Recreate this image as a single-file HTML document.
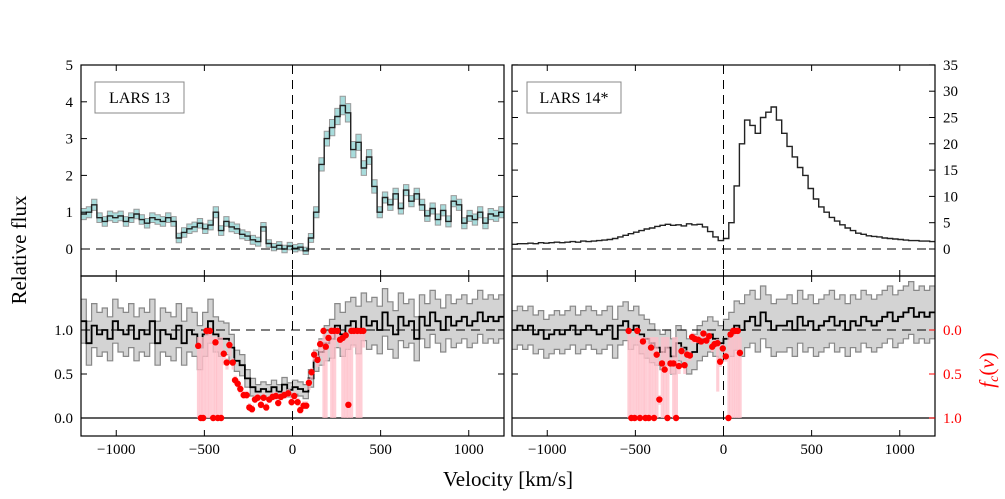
<!DOCTYPE html>
<html><head><meta charset="utf-8"><style>
body{margin:0;background:#fff;}
svg{display:block;font-family:"Liberation Serif",serif;}
</style></head><body>
<svg id="c" width="1005" height="499" viewBox="0 0 1005 499" xmlns="http://www.w3.org/2000/svg"></svg>
<script>
// ---- data ----
const binStart = -1200, binWidth = 30;
const flux13 = [0.95,1.0,1.2,0.85,0.75,0.9,0.85,0.9,0.75,0.85,0.95,0.8,0.7,0.85,0.8,0.75,0.85,0.75,0.3,0.45,0.55,0.6,0.7,0.55,0.65,1.0,0.5,0.75,0.6,0.55,0.4,0.35,0.25,0.2,0.6,0.15,0.05,0.1,0.0,0.08,0.02,0.05,-0.05,0.3,1.0,2.3,3.0,3.3,3.6,3.9,3.7,2.7,2.9,2.2,2.5,1.7,1.0,1.4,1.2,1.5,1.1,1.6,1.3,1.5,1.2,0.9,1.1,0.8,1.05,0.75,1.3,1.2,0.7,0.9,0.8,1.0,0.7,0.95,0.9,1.0];
const err13 = [0.15,0.15,0.15,0.13,0.13,0.13,0.13,0.13,0.13,0.13,0.13,0.13,0.13,0.13,0.13,0.13,0.13,0.13,0.13,0.13,0.13,0.13,0.13,0.13,0.13,0.15,0.13,0.13,0.13,0.13,0.12,0.12,0.12,0.12,0.12,0.1,0.1,0.1,0.1,0.1,0.1,0.1,0.1,0.12,0.15,0.18,0.2,0.22,0.22,0.25,0.25,0.22,0.22,0.2,0.2,0.18,0.15,0.15,0.15,0.15,0.15,0.15,0.15,0.15,0.15,0.15,0.15,0.15,0.15,0.15,0.15,0.15,0.15,0.15,0.15,0.15,0.15,0.15,0.15,0.15];
const flux14 = [0.9,1.0,1.0,1.1,1.0,1.2,1.1,1.2,1.3,1.2,1.3,1.4,1.3,1.5,1.4,1.5,1.6,1.7,1.8,2.0,2.3,2.6,2.9,3.2,3.5,3.8,4.0,4.3,4.5,4.7,4.5,4.6,4.4,4.8,4.6,4.7,4.2,3.3,2.3,1.6,2.0,5.0,12.0,20.0,24.5,23.5,22.0,25.0,26.0,27.0,24.5,22.0,19.5,17.5,15.5,14.0,11.5,9.5,8.0,7.0,6.0,5.3,4.6,4.0,3.5,3.0,2.8,2.5,2.4,2.3,2.1,2.0,1.9,1.8,1.7,1.6,1.6,1.5,1.5,1.4];
const norm13 = [1.1,0.85,1.05,0.95,1.0,0.9,1.1,1.0,0.95,1.05,0.9,1.0,0.95,1.1,0.85,1.0,0.95,0.9,1.05,0.85,1.0,0.95,0.8,0.95,1.1,0.95,0.9,0.9,0.8,0.65,0.6,0.45,0.35,0.3,0.33,0.3,0.35,0.3,0.38,0.32,0.35,0.33,0.3,0.45,0.65,0.75,0.85,0.9,1.05,0.95,1.05,1.1,1.0,1.15,1.05,1.1,1.0,1.2,1.05,0.95,1.15,1.05,1.1,0.9,1.15,1.05,1.2,1.1,1.0,1.15,1.05,1.1,1.15,1.05,1.1,1.2,1.1,1.15,1.1,1.15];
const nerr13 = [0.25,0.25,0.25,0.25,0.25,0.25,0.25,0.25,0.25,0.25,0.25,0.25,0.25,0.25,0.25,0.25,0.25,0.25,0.25,0.25,0.25,0.25,0.25,0.25,0.25,0.2,0.2,0.18,0.15,0.12,0.12,0.1,0.1,0.08,0.08,0.08,0.08,0.08,0.08,0.08,0.08,0.08,0.08,0.1,0.12,0.15,0.2,0.22,0.25,0.25,0.27,0.27,0.27,0.27,0.27,0.27,0.27,0.27,0.27,0.27,0.27,0.25,0.25,0.25,0.25,0.25,0.25,0.25,0.25,0.25,0.25,0.25,0.25,0.25,0.25,0.25,0.25,0.25,0.25,0.25];
const norm14 = [1.0,1.05,1.0,1.05,0.95,1.0,0.9,0.95,1.0,0.95,1.0,1.05,0.95,1.0,1.05,1.0,0.95,1.0,1.05,0.9,1.05,1.1,1.0,1.05,0.95,0.9,0.85,0.8,0.75,0.8,0.7,0.85,0.8,0.7,0.75,0.85,0.9,0.95,0.9,0.85,0.9,0.95,1.05,1.0,1.1,1.15,1.05,1.2,1.1,1.0,1.05,1.05,1.1,1.0,1.15,1.05,1.1,1.0,1.05,1.1,1.15,1.05,1.1,1.0,1.1,1.05,1.15,1.1,1.05,1.1,1.15,1.2,1.1,1.15,1.2,1.25,1.15,1.2,1.15,1.2];
const nerr14 = [0.22,0.22,0.22,0.22,0.22,0.22,0.22,0.22,0.22,0.22,0.22,0.22,0.22,0.22,0.22,0.22,0.22,0.22,0.22,0.22,0.22,0.22,0.22,0.22,0.22,0.22,0.22,0.2,0.2,0.2,0.2,0.2,0.2,0.2,0.2,0.2,0.2,0.2,0.2,0.2,0.22,0.25,0.28,0.3,0.3,0.3,0.3,0.3,0.3,0.3,0.3,0.3,0.3,0.3,0.3,0.3,0.3,0.3,0.3,0.3,0.3,0.3,0.3,0.3,0.3,0.3,0.3,0.3,0.3,0.3,0.3,0.3,0.3,0.3,0.3,0.3,0.3,0.3,0.3,0.3];
const fcVel13 = [-535,-520,-507,-488,-469,-450,-437,-424,-405,-390,-373,-358,-339,-326,-311,-296,-277,-260,-245,-230,-213,-198,-179,-164,-149,-132,-113,-94,-81,-66,-47,-24,-5,10,29,44,63,78,93,108,123,142,157,176,189,204,221,236,255,270,285,302,317,334,349,368,387,402];
const fcVal13 = [0.18,1,1,0.01,0.01,1,0.14,1,1,0.27,0.37,0.17,0.37,0.57,0.61,0.67,0.74,0.74,0.88,0.9,0.79,0.77,0.85,0.77,0.88,0.79,0.76,0.75,0.83,0.76,0.74,0.72,0.82,0.75,0.82,0.91,0.86,0.86,0.6,0.48,0.28,0.34,0.16,0.01,0.19,0.09,0.01,0.01,0.01,0.11,0.09,0.06,0.85,0.01,0.01,0.01,0.01,0.01];
const fcHi13 = [1,1,1,1,1,1,1,1,1,0.4,0.45,0.3,0.45,0.62,0.66,0.72,0.78,0.78,0.92,0.94,0.83,0.81,0.89,0.81,0.92,0.83,0.8,0.79,0.87,0.8,0.78,0.76,0.86,0.79,0.86,0.95,0.9,0.9,0.68,0.56,0.36,0.42,0.3,1,1,0.2,1,1,0.1,0.2,1,1,1,1,0.2,1,1,0.2];
const fcVel14 = [-538,-523,-504,-489,-474,-457,-443,-424,-411,-394,-379,-364,-349,-334,-318,-301,-284,-269,-253,-238,-221,-206,-191,-178,-163,-144,-127,-114,-97,-81,-64,-51,-34,-19,-4,13,28,40,55,68,81,93];
const fcVal14 = [0.01,1,1,0.01,1,0.13,1,1,0.2,1,0.28,0.79,0.38,0.45,1,0.38,0.38,1,0.41,0.24,0.4,0.28,0.29,0.08,0.1,0.11,0.13,0.04,0.12,0.07,0.19,0.16,0.15,0.36,0.21,0.3,1,0.05,0.01,0.01,0.01,0.26];
const fcHi14 = [1,1,1,1,1,1,1,1,1,1,1,0.85,1,1,1,0.5,1,1,0.5,0.35,0.5,0.35,0.35,0.15,0.15,0.15,0.17,0.1,0.16,0.12,0.25,0.2,0.7,0.42,0.26,0.36,1,1,1,1,1,1];
const xTicks = [-1000,-500,0,500,1000];
const yTicks13 = [0,1,2,3,4,5];
const yTicks14 = [0,5,10,15,20,25,30,35];
const nTicks = [0.0,0.5,1.0];
const fcTicks = [0.0,0.5,1.0];

// ---- drawing ----
const svg=document.getElementById('c');
const NS='http://www.w3.org/2000/svg';
function el(tag,attrs,parent){const e=document.createElementNS(NS,tag);for(const k in attrs)e.setAttribute(k,attrs[k]);(parent||svg).appendChild(e);return e;}
function txt(s,attrs,parent){const e=el('text',attrs,parent);e.textContent=s;return e;}

const panels=[{x0:81,x1:504},{x0:512,x1:935}];
const TOP0=65,TOP1=276,BOT1=436;
function xs(p){return v=>p.x0+(v+1200)/2400*(p.x1-p.x0);}
const yTopL=f=>249-f*36.8;
const yTopR=f=>249-f*5.26;
const yBot=n=>418-n*88;

function stepPath(vals,X,Y){let d='';vals.forEach((v,i)=>{const a=X(binStart+i*binWidth),b=X(binStart+(i+1)*binWidth),y=Y(v);d+=(i?'L':'M')+a.toFixed(1)+','+y.toFixed(1)+'L'+b.toFixed(1)+','+y.toFixed(1);});return d;}
function bandPath(vals,errs,X,Y){const up=vals.map((v,i)=>v+errs[i]),lo=vals.map((v,i)=>v-errs[i]);let d=stepPath(up,X,Y);let pts=[];lo.forEach((v,i)=>{pts.push([X(binStart+i*binWidth),Y(v)]);pts.push([X(binStart+(i+1)*binWidth),Y(v)]);});pts.reverse().forEach(p=>{d+='L'+p[0].toFixed(1)+','+p[1].toFixed(1);});return d+'Z';}

function clip(id,x,y,w,h){const cp=el('clipPath',{id:id});el('rect',{x:x,y:y,width:w,height:h},cp);}
panels.forEach((p,k)=>{clip('ct'+k,p.x0,TOP0,p.x1-p.x0,TOP1-TOP0);clip('cb'+k,p.x0,TOP1,p.x1-p.x0,BOT1-TOP1);});

function drawTop(k,fl,er,Y,name){
  const p=panels[k],X=xs(p);
  const g=el('g',{'clip-path':'url(#ct'+k+')'});
  
  
  if(er){const b=el('path',{d:bandPath(fl,er,X,Y),fill:'#a8dcdc',stroke:'#999','stroke-width':1},g);
    }
  const l=el('path',{d:stepPath(fl,X,Y),fill:'none',stroke:'#222','stroke-width':1.4},g);
  
  el('line',{x1:p.x0,x2:p.x1,y1:Y(0),y2:Y(0),stroke:'#000','stroke-dasharray':'9,6','stroke-width':1},g);
  el('line',{x1:X(0),x2:X(0),y1:TOP0,y2:TOP1,stroke:'#000','stroke-dasharray':'9,6','stroke-width':1},g);
}
function drawBot(k,nv,ne,fv,fval,fhi,name){
  const p=panels[k],X=xs(p);
  const g=el('g',{'clip-path':'url(#cb'+k+')'});
  
  
  const b=el('path',{d:bandPath(nv,ne,X,yBot),fill:'#d3d3d3',stroke:'#888','stroke-width':1.2},g);
  
  el('line',{x1:p.x0,x2:p.x1,y1:yBot(1),y2:yBot(1),stroke:'#000','stroke-dasharray':'9,6','stroke-width':1},g);
  el('line',{x1:p.x0,x2:p.x1,y1:yBot(0),y2:yBot(0),stroke:'#000','stroke-width':1.2},g);
  el('line',{x1:X(0),x2:X(0),y1:TOP1,y2:BOT1,stroke:'#000','stroke-dasharray':'9,6','stroke-width':1},g);
  const l=el('path',{d:stepPath(nv,X,yBot),fill:'none',stroke:'#000','stroke-width':1.8},g);
  
  fv.forEach((v,i)=>{
    const w=(i<fv.length-1?fv[i+1]-v:15);
    const lo=fhi[i]>=1?Math.min(fval[i],0.08):Math.max(0,fval[i]-0.05);
    const r=el('rect',{x:X(v-w/2),y:yBot(1-lo),width:Math.max(1.5,X(v+w/2)-X(v-w/2)+0.5),height:yBot(1-fhi[i])-yBot(1-lo),fill:'rgba(255,190,200,0.75)',stroke:'none'},g);
    
    
  });
  fv.forEach((v,i)=>{
    const c=el('circle',{cx:X(v),cy:yBot(1-fval[i]),r:3.2,fill:'#ff0000'},g);
    
    
  });
}
drawTop(0,flux13,err13,yTopL,'lars13');
drawTop(1,flux14,null,yTopR,'lars14');
drawBot(0,norm13,nerr13,fcVel13,fcVal13,fcHi13,'lars13');
drawBot(1,norm14,nerr14,fcVel14,fcVal14,fcHi14,'lars14');

// frames and ticks
panels.forEach((p,k)=>{
  const X=xs(p);
  [[TOP0,TOP1],[TOP1,BOT1]].forEach(([a,b])=>{
    const r=el('rect',{x:p.x0,y:a,width:p.x1-p.x0,height:b-a,fill:'none',stroke:'#000','stroke-width':1.2});
    
    xTicks.forEach(v=>{el('line',{x1:X(v),x2:X(v),y1:a,y2:a+6,stroke:'#000'});el('line',{x1:X(v),x2:X(v),y1:b,y2:b-6,stroke:'#000'});});
  });
  xTicks.forEach(v=>{const t=txt(v<0?'\u2212'+(-v):String(v),{x:X(v),y:454,'font-size':15,'text-anchor':'middle'});
    });
});
yTicks13.forEach(f=>{const y=yTopL(f);el('line',{x1:81,x2:87,y1:y,y2:y,stroke:'#000'});el('line',{x1:504,x2:498,y1:y,y2:y,stroke:'#000'});
  const t=txt(String(f),{x:73,y:y+5,'font-size':15,'text-anchor':'end'});});
yTicks14.forEach(f=>{const y=yTopR(f);el('line',{x1:512,x2:518,y1:y,y2:y,stroke:'#000'});el('line',{x1:935,x2:929,y1:y,y2:y,stroke:'#000'});
  const t=txt(String(f),{x:943,y:y+5,'font-size':15});});
nTicks.forEach(n=>{const y=yBot(n);el('line',{x1:81,x2:87,y1:y,y2:y,stroke:'#000'});el('line',{x1:504,x2:498,y1:y,y2:y,stroke:'#000'});el('line',{x1:512,x2:518,y1:y,y2:y,stroke:'#000'});
  const t=txt(n.toFixed(1),{x:73,y:y+5,'font-size':15,'text-anchor':'end'});});
fcTicks.forEach(f=>{const y=yBot(1-f);el('line',{x1:935,x2:929,y1:y,y2:y,stroke:'#f00'});
  const t=txt(f.toFixed(1),{x:943,y:y+5,'font-size':15,fill:'#f00'});});

// legends
[[95,89,'LARS 13'],[527,94,'LARS 14*']].forEach(([x,w,s])=>{
  const g=el('g',{});
  el('rect',{x:x,y:82,width:w,height:31,fill:'#fff',stroke:'#888'},g);
  txt(s,{x:x+w/2,y:103,'font-size':16,'text-anchor':'middle'},g);
});
let t=txt('Relative flux',{x:26,y:250,'font-size':21,'text-anchor':'middle',transform:'rotate(-90 26 250)'});

t=txt('Velocity [km/s]',{x:508,y:486,'font-size':21,'text-anchor':'middle'});

t=el('text',{x:994,y:370,'font-size':21,'text-anchor':'middle',fill:'#f00',transform:'rotate(-90 994 370)','font-style':'italic'});
t.innerHTML='f<tspan font-size="14" dy="4">c</tspan><tspan dy="-4" font-style="normal">(</tspan>v<tspan font-style="normal">)</tspan>';

</script>
</body></html>
